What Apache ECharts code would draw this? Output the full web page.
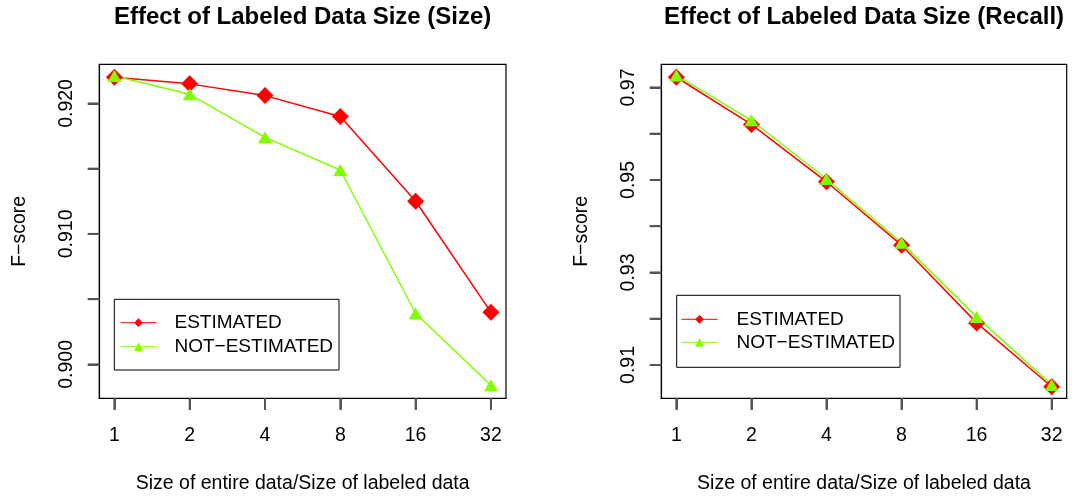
<!DOCTYPE html>
<html><head><meta charset="utf-8">
<script src="https://cdn.jsdelivr.net/npm/echarts@6/dist/echarts.min.js"></script>
<style>html,body{margin:0;padding:0;background:#fff}#c{width:1072px;height:498px}</style>
</head><body><div id="c"></div>
<script>
// ---- data ----
const categories = ['1', '2', '4', '8', '16', '32'];
const sizeEstimated      = [0.9220, 0.9215, 0.9206, 0.9190, 0.9125, 0.9040];
const sizeNotEstimated   = [0.9221, 0.9207, 0.9174, 0.9149, 0.9039, 0.8984];
const recallEstimated    = [0.9722, 0.9620, 0.9496, 0.9359, 0.9191, 0.9053];
const recallNotEstimated = [0.9726, 0.9629, 0.9502, 0.9364, 0.9204, 0.9057];
const sizeYTicks   = [0.900, 0.905, 0.910, 0.915, 0.920];
const sizeYLabels  = [0.900, 0.910, 0.920];
const recallYTicks  = [0.91, 0.92, 0.93, 0.94, 0.95, 0.96, 0.97];
const recallYLabels = [0.91, 0.93, 0.95, 0.97];
const titles = ['Effect of Labeled Data Size (Size)', 'Effect of Labeled Data Size (Recall)'];
const seriesNames = ['ESTIMATED', 'NOT\u2212ESTIMATED'];
const xName = 'Size of entire data/Size of labeled data';
const yName = 'F\u2212score';

// ---- styling ----
const FONT = 'Liberation Sans, Arial, Helvetica, sans-serif';
const RED = '#FF0000', GREEN = '#7FFF00';
const FS = 19.5;
const TICK = 11.5;
// category positions 1..6 (evenly spaced, as in the original plot)
const xPos = categories.map((c, i) => i + 1);
const xRange = [0.8, 6.2];
const grids = [
  { left: 99.3, top: 64.3, width: 406.7, height: 334 },
  { left: 661.3, top: 64.3, width: 405.4, height: 334 }
];
const yRanges = [[0.8974, 0.9230], [0.9028, 0.9750]];
const yTickSets = [sizeYTicks, recallYTicks];
const yLabelSets = [sizeYLabels, recallYLabels];
const yDigits = [3, 2];

const axisLineStyle = { show: true, onZero: false, lineStyle: { color: '#000', width: 1.2 } };
const tickLine = { color: '#555', width: 2 };
function xAxis(g) {
  return {
    type: 'value', gridIndex: g, min: xRange[0], max: xRange[1],
    axisLine: axisLineStyle,
    axisTick: { show: true, customValues: xPos, length: TICK, lineStyle: tickLine },
    axisLabel: { customValues: xPos, formatter: v => categories[Math.round(v) - 1], margin: 27,
                 fontSize: FS, color: '#000', fontFamily: FONT },
    splitLine: { show: false },
    name: xName, nameLocation: 'middle', nameGap: 75, nameMoveOverlap: false,
    nameTextStyle: { fontSize: FS, color: '#000', fontFamily: FONT }
  };
}
function yAxis(g) {
  return {
    type: 'value', gridIndex: g, min: yRanges[g][0], max: yRanges[g][1],
    axisLine: axisLineStyle,
    axisTick: { show: true, customValues: yTickSets[g], length: TICK, lineStyle: tickLine },
    axisLabel: { customValues: yLabelSets[g], formatter: v => v.toFixed(yDigits[g]), rotate: 90,
                 margin: 23, fontSize: FS, color: '#000', fontFamily: FONT },
    splitLine: { show: false },
    name: yName, nameLocation: 'middle', nameGap: 70, nameMoveOverlap: false,
    nameTextStyle: { fontSize: FS, color: '#000', fontFamily: FONT }
  };
}
// outward tick marks, positioned through the axes' own scales
function tickSeries(g, isX) {
  const data = isX ? xPos.map(v => [v, yRanges[g][0]]) : yTickSets[g].map(v => [xRange[0], v]);
  return {
    type: 'custom', xAxisIndex: g, yAxisIndex: g, silent: true, clip: false, z: 5,
    data: data,
    renderItem: (params, api) => {
      const p = api.coord([api.value(0), api.value(1)]);
      const shape = isX ? { x1: p[0], y1: p[1], x2: p[0], y2: p[1] + TICK }
                        : { x1: p[0] - TICK, y1: p[1], x2: p[0], y2: p[1] };
      return { type: 'line', shape: shape, style: { stroke: '#555', lineWidth: 2 } };
    },
    animation: false, tooltip: { show: false }
  };
}
function series(g, name, values, color, isDiamond) {
  return {
    type: 'line', name: name, xAxisIndex: g, yAxisIndex: g,
    data: values.map((v, i) => [xPos[i], v]),
    symbol: isDiamond ? 'diamond' : 'triangle',
    symbolSize: isDiamond ? [17, 17] : [14, 12],
    showAllSymbol: true,
    lineStyle: { color: color, width: 1.5 },
    itemStyle: { color: color, opacity: 1 },
    emphasis: { disabled: true },
    animation: false
  };
}
function legend(left, top, padding, gap, textPad) {
  return {
    data: seriesNames, orient: 'vertical', left: left, top: top,
    padding: padding, itemGap: gap, itemWidth: 36, itemHeight: 11,
    borderColor: '#000', borderWidth: 1, backgroundColor: '#fff',
    lineStyle: { width: 1 },
    textStyle: { fontSize: 19, lineHeight: 20, color: '#000', fontFamily: FONT, padding: [0, 0, 0, textPad] },
    selectedMode: false
  };
}

const option = {
  backgroundColor: '#fff',
  animation: false,
  grid: grids.map(g => Object.assign({ show: true, borderColor: '#000', borderWidth: 1.2,
                                       backgroundColor: 'transparent', containLabel: false,
                                       outerBoundsMode: 'none' }, g)),
  xAxis: [xAxis(0), xAxis(1)],
  yAxis: [yAxis(0), yAxis(1)],
  legend: [
    legend(114.3, 299.3, [13.4, 6, 13.3, 5.7], 4, 13),
    legend(676.7, 295.3, [14, 5, 15, 4.3], 3, 14)
  ],
  series: [
    tickSeries(0, true), tickSeries(0, false), tickSeries(1, true), tickSeries(1, false),
    series(0, seriesNames[0], sizeEstimated, RED, true),
    series(0, seriesNames[1], sizeNotEstimated, GREEN, false),
    series(1, seriesNames[0], recallEstimated, RED, true),
    series(1, seriesNames[1], recallNotEstimated, GREEN, false)
  ],
  graphic: titles.map((t, i) => ({
    type: 'text', x: grids[i].left + grids[i].width / 2, y: 17.2,
    style: { text: t, fontSize: 24, fontWeight: 'bold', fontFamily: FONT, fill: '#000',
             align: 'center', verticalAlign: 'middle' }
  }))
};
const chart = echarts.init(document.getElementById('c'), null, { renderer: 'canvas' });
chart.setOption(option);
</script></body></html>
